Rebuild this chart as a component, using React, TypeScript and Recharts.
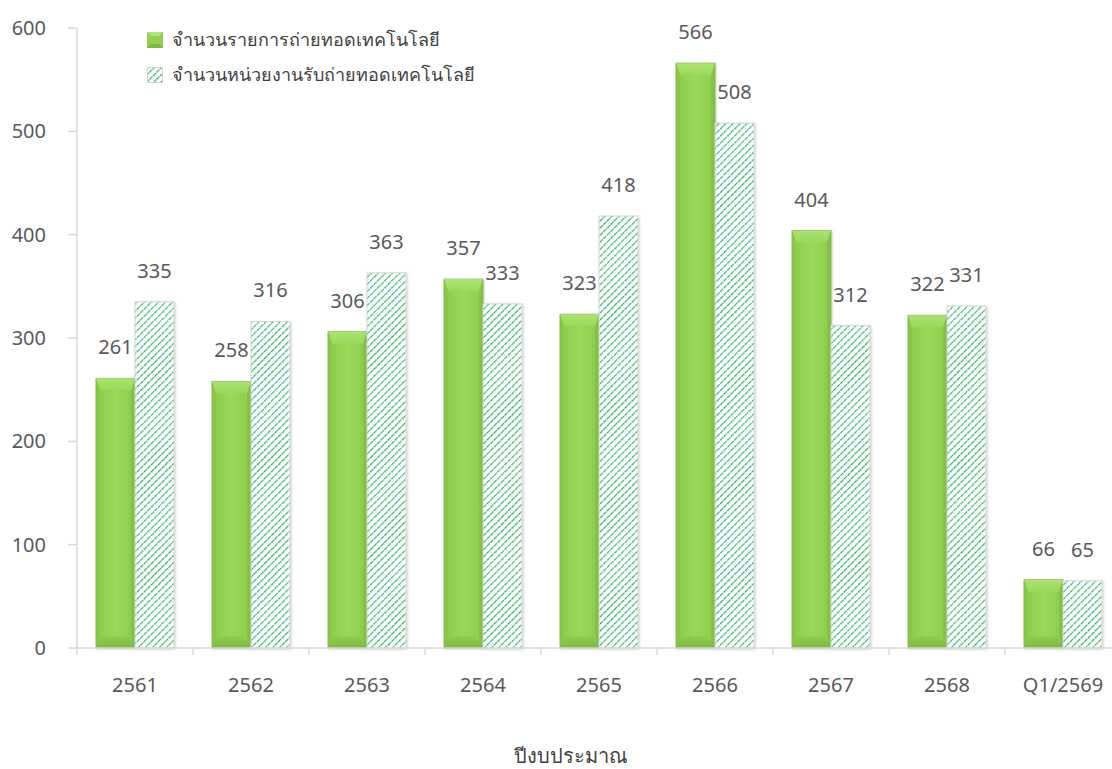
import React from 'react'
import { BarChart, Bar, XAxis, YAxis, LabelList } from 'recharts'

const categories = ['2561', '2562', '2563', '2564', '2565', '2566', '2567', '2568', 'Q1/2569']
const transfers = [261, 258, 306, 357, 323, 566, 404, 322, 66]
const receivers = [335, 316, 363, 333, 418, 508, 312, 331, 65]
const yTicks = [0, 100, 200, 300, 400, 500, 600]

const SERIES_A = 'จำนวนรายการถ่ายทอดเทคโนโลยี'
const SERIES_B = 'จำนวนหน่วยงานรับถ่ายทอดเทคโนโลยี'

const FONT = '"Noto Sans", "DejaVu Sans", sans-serif'
const AXIS = '#d9d9d9'
const TEXT = '#595959'

const data = categories.map((c, i) => ({ name: c, a: transfers[i], b: receivers[i] }))

function BevelBar(props: any) {
  const { x, y, width, height } = props
  if (!height || height <= 0) return null
  const bv = Math.min(12, height / 3)
  const sv = Math.min(4, width / 4)
  return (
    <g filter="url(#shadow)">
      <rect x={x} y={y} width={width} height={height} fill="url(#greenFace)" stroke="#74ad3c" strokeWidth={0.8} />
      <polygon
        points={`${x},${y} ${x + width},${y} ${x + width - sv},${y + bv} ${x + sv},${y + bv}`}
        fill="url(#topBevel)"
      />
      <polygon
        points={`${x},${y} ${x + sv},${y + bv} ${x + sv},${y + height - bv} ${x},${y + height}`}
        fill="#84c046"
        opacity={0.45}
      />
      <polygon
        points={`${x + width},${y} ${x + width - sv},${y + bv} ${x + width - sv},${y + height - bv} ${x + width},${y + height}`}
        fill="#7ab83e"
        opacity={0.5}
      />
      <polygon
        points={`${x},${y + height} ${x + sv},${y + height - bv} ${x + width - sv},${y + height - bv} ${x + width},${y + height}`}
        fill="url(#bottomBevel)"
      />
    </g>
  )
}

function HatchBar(props: any) {
  const { x, y, width, height } = props
  if (!height || height <= 0) return null
  return (
    <g filter="url(#shadow)">
      <rect x={x} y={y} width={width} height={height} fill="#ffffff" />
      <rect x={x} y={y} width={width} height={height} fill="url(#hatch)" stroke="#d4d4d4" strokeWidth={1} />
    </g>
  )
}

function XTick(props: any) {
  const { x, y, payload } = props
  const half = payload && payload.offset ? payload.offset : 58
  return (
    <g>
      <line x1={x - half} y1={y - 9} x2={x - half} y2={y - 1} stroke={AXIS} strokeWidth={1.5} />
      <text x={x} y={y + 36} textAnchor="middle" fill={TEXT} fontSize={20} fontFamily={FONT}>
        {payload.value}
      </text>
    </g>
  )
}

function LegendBox() {
  const row = (label: string, hatched: boolean) => (
    <div style={{ display: 'flex', alignItems: 'center', height: 35 }}>
      <svg width={16} height={16} style={{ marginRight: 9 }}>
        {hatched ? (
          <rect x={0.5} y={0.5} width={15} height={15} fill="url(#hatchLegend)" stroke="#d4d4d4" />
        ) : (
          <g>
            <rect x={0} y={0} width={16} height={16} fill="#92d050" />
            <polygon points="0,0 16,0 12,4 4,4" fill="#b3e27c" />
            <polygon points="0,16 4,12 12,12 16,16" fill="#7db640" />
          </g>
        )}
      </svg>
      <span style={{ fontSize: 18, color: '#404040', fontFamily: FONT }}>{label}</span>
    </div>
  )
  return (
    <div style={{ position: 'absolute', left: 147, top: 22 }}>
      {row(SERIES_A, false)}
      {row(SERIES_B, true)}
    </div>
  )
}

export default function App() {
  return (
    <div
      style={{
        position: 'absolute',
        left: 0,
        top: 0,
        width: 1112,
        height: 769,
        overflow: 'hidden',
        background: '#ffffff',
      }}
    >
      <svg width={0} height={0} style={{ position: 'absolute' }}>
        <defs>
          <pattern id="hatchLegend" width="5" height="5" patternUnits="userSpaceOnUse" patternTransform="rotate(45)">
            <rect width="5" height="5" fill="#ffffff" />
            <line x1="0" y1="0" x2="0" y2="5" stroke="#1fae5e" strokeWidth={2.4} strokeDasharray="2 0.8" />
          </pattern>
        </defs>
      </svg>
      <BarChart
        width={1130}
        height={769}
        data={data}
        margin={{ top: 28, right: 9, bottom: 0, left: 0 }}
        barGap={0}
        barSize={39}
      >
        <defs>
          <linearGradient id="greenFace" x1="0" y1="0" x2="1" y2="0">
            <stop offset="0%" stopColor="#8ccb4a" />
            <stop offset="50%" stopColor="#99d957" />
            <stop offset="100%" stopColor="#8dcb4c" />
          </linearGradient>
          <linearGradient id="topBevel" x1="0" y1="0" x2="0" y2="1">
            <stop offset="0%" stopColor="#acE272" />
            <stop offset="100%" stopColor="#9ad85a" />
          </linearGradient>
          <linearGradient id="bottomBevel" x1="0" y1="0" x2="0" y2="1">
            <stop offset="0%" stopColor="#90cd50" />
            <stop offset="100%" stopColor="#7cb842" />
          </linearGradient>
          <pattern id="hatch" width="5" height="5" patternUnits="userSpaceOnUse" patternTransform="rotate(45)">
            <line x1="0" y1="0" x2="0" y2="5" stroke="#1fae5e" strokeWidth={2.4} strokeDasharray="2 0.8" />
          </pattern>
          <filter id="shadow" x="-20%" y="-5%" width="140%" height="110%">
            <feDropShadow dx="1" dy="1" stdDeviation="1" floodColor="#000" floodOpacity="0.2" />
          </filter>
        </defs>
        <XAxis
          dataKey="name"
          height={121}
          axisLine={{ stroke: AXIS, strokeWidth: 1.5 }}
          tickLine={false}
          tick={<XTick />}
          interval={0}
          label={{
            value: 'ปีงบประมาณ',
            position: 'insideBottom',
            offset: 6,
            fill: '#404040',
            fontSize: 20,
            fontFamily: FONT,
            dx: -28,
          }}
        />
        <YAxis
          width={77}
          domain={[0, 600]}
          ticks={yTicks}
          axisLine={{ stroke: AXIS, strokeWidth: 1.5 }}
          tickLine={{ stroke: AXIS, strokeWidth: 1.5 }}
          tickSize={9}
          tickMargin={22}
          tick={{ fill: TEXT, fontSize: 20, fontFamily: FONT }}
        />
        <Bar dataKey="a" name={SERIES_A} shape={<BevelBar />} isAnimationActive={false}>
          <LabelList dataKey="a" position="top" offset={24} fill={TEXT} fontSize={20} fontFamily={FONT} />
        </Bar>
        <Bar dataKey="b" name={SERIES_B} shape={<HatchBar />} isAnimationActive={false}>
          <LabelList dataKey="b" position="top" offset={24} fill={TEXT} fontSize={20} fontFamily={FONT} />
        </Bar>
      </BarChart>
      <LegendBox />
    </div>
  )
}
